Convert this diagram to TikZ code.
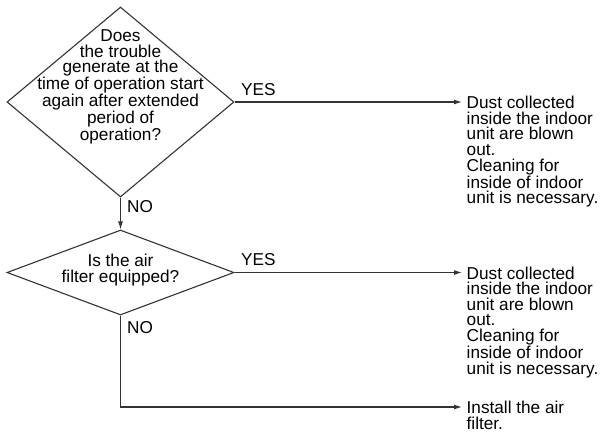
\documentclass[tikz,border=0pt]{standalone}
\usepackage{fontspec}
\setmainfont{Liberation Sans}
\usetikzlibrary{shapes.geometric,arrows.meta}
\begin{document}
\begin{tikzpicture}[x=1pt,y=-1pt,
  line/.style={draw=black!80,line width=1.1pt},
  arr/.style={line,-{Latex[length=8pt,width=5pt]}},
  decision/.style={diamond,draw=black!80,line width=1.1pt,inner sep=0pt,aspect=1.2},
  txt/.style={font=\fontsize{17.2}{15.6}\selectfont,inner sep=0pt},
  answer/.style={txt,anchor=north west,align=left},
  tag/.style={txt,anchor=base west}]
\useasboundingbox (0,0) rectangle (611,432);

% decision 1
\node[decision,minimum width=227pt,minimum height=190pt] (d1) at (120.5,102) {};
\node[txt,align=center] (q1) at (120.5,87)
  {Does\\the trouble\\generate at the\\time of operation start\\again after extended\\period of\\operation?};

% decision 2
\node[decision,minimum width=227pt,minimum height=85pt] (d2) at (120.5,272.5) {};
\node[txt,align=center] (q2) at (120.5,270)
  {Is the air\\filter equipped?};

% outcomes
\coordinate (e1) at (462,102);
\coordinate (e2) at (462,272.5);
\coordinate (c3) at (d2.south |- 0,407);
\coordinate (e3) at (462,407);

\node[answer] (a1) at (466.5,96)
  {Dust collected\\inside the indoor\\unit are blown\\out.\\Cleaning for\\inside of indoor\\unit is necessary.};
\node[answer] (a2) at (466.5,266.5)
  {Dust collected\\inside the indoor\\unit are blown\\out.\\Cleaning for\\inside of indoor\\unit is necessary.};
\node[answer] (a3) at (466.5,401)
  {Install the air\\filter.};

% connectors
\draw[arr] (d1.east) -- (e1);
\draw[arr] (d1.south) -- (d2.north);
\draw[arr] (d2.east) -- (e2);
\draw[arr] (d2.south) -- (c3) -- (e3);

% branch labels
\node[tag] (y1) at (241,95) {YES};
\node[tag] (n1) at (127,212) {NO};
\node[tag] (y2) at (241,265) {YES};
\node[tag] (n2) at (127,333) {NO};
\end{tikzpicture}
\end{document}
